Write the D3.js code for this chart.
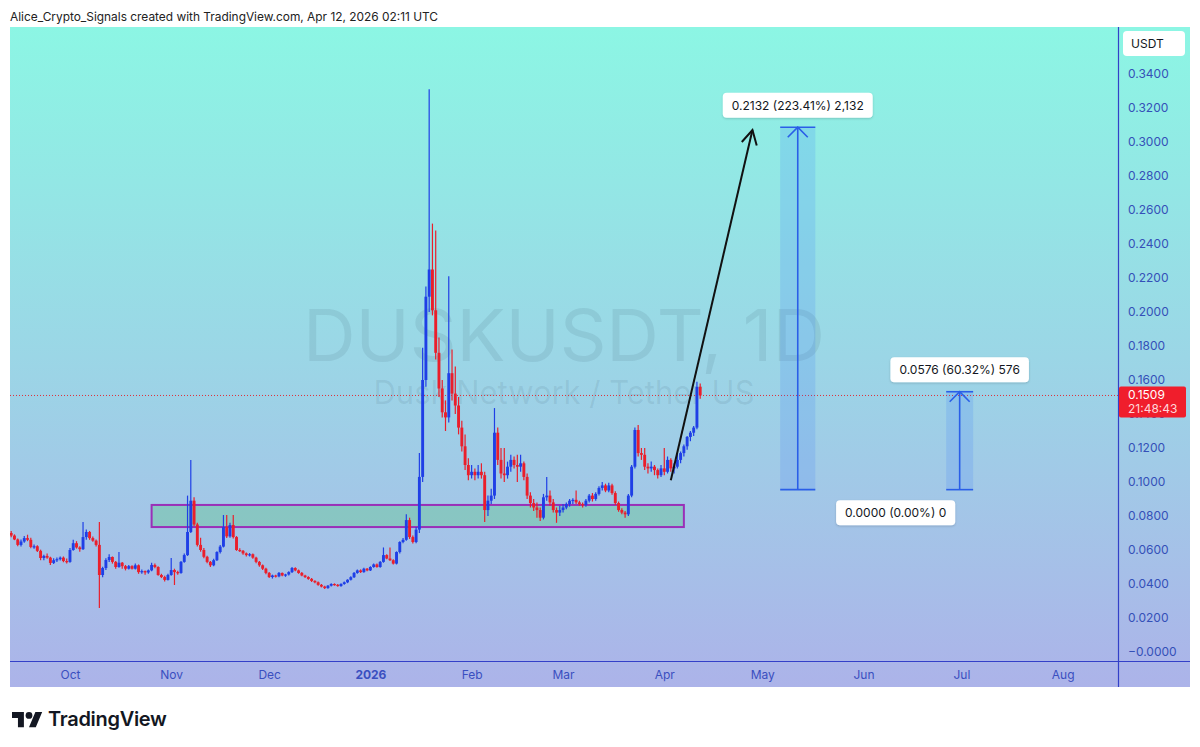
<!DOCTYPE html>
<html><head><meta charset="utf-8">
<script src="https://cdn.jsdelivr.net/npm/d3@7/dist/d3.min.js"></script>
<style>
html,body{margin:0;padding:0;background:#fff;}
svg{display:block;font-family:Inter,"Noto Sans",sans-serif;}
</style></head>
<body><svg id="c" width="1200" height="747"></svg>
<script>
// ---------------- DATA (daily candles [open, high, low, close]) ----------------
const startDate = Date.UTC(2025, 8, 13); // first candle: Sep 13 2025
const sep2025 = [
[0.0700,0.0712,0.0675,0.0685],[0.0685,0.0692,0.0658,0.0662],[0.0662,0.0668,0.0622,0.0630],
[0.0630,0.0662,0.0620,0.0650],[0.0650,0.0682,0.0642,0.0670],[0.0670,0.0690,0.0652,0.0660],
[0.0660,0.0672,0.0610,0.0618],[0.0618,0.0632,0.0608,0.0622],[0.0622,0.0628,0.0588,0.0595],
[0.0595,0.0602,0.0540,0.0553],[0.0553,0.0572,0.0540,0.0565],[0.0565,0.0580,0.0548,0.0555],
[0.0555,0.0560,0.0512,0.0524],[0.0524,0.0552,0.0518,0.0540],[0.0540,0.0556,0.0530,0.0546],
[0.0546,0.0562,0.0538,0.0555],[0.0555,0.0562,0.0528,0.0535],[0.0535,0.0550,0.0520,0.0530]];
const oct2025 = [
[0.0530,0.0612,0.0525,0.0600],[0.0600,0.0660,0.0595,0.0640],[0.0640,0.0652,0.0608,0.0615],
[0.0615,0.0622,0.0590,0.0605],[0.0605,0.0765,0.0600,0.0676],[0.0676,0.0720,0.0660,0.0706],
[0.0706,0.0712,0.0660,0.0670],[0.0670,0.0680,0.0648,0.0655],[0.0655,0.0662,0.0620,0.0630],
[0.0630,0.0765,0.0259,0.0453],[0.0453,0.0502,0.0440,0.0494],[0.0494,0.0552,0.0482,0.0541],
[0.0541,0.0575,0.0530,0.0559],[0.0559,0.0562,0.0520,0.0530],[0.0530,0.0536,0.0490,0.0500],
[0.0500,0.0588,0.0495,0.0525],[0.0525,0.0530,0.0490,0.0505],[0.0505,0.0512,0.0480,0.0490],
[0.0490,0.0512,0.0485,0.0505],[0.0505,0.0510,0.0485,0.0490],[0.0490,0.0520,0.0485,0.0510],
[0.0510,0.0515,0.0460,0.0470],[0.0470,0.0485,0.0460,0.0476],[0.0476,0.0480,0.0455,0.0468],
[0.0468,0.0486,0.0460,0.0480],[0.0480,0.0525,0.0475,0.0512],[0.0512,0.0520,0.0492,0.0500],
[0.0500,0.0505,0.0448,0.0453],[0.0453,0.0460,0.0435,0.0441],[0.0441,0.0448,0.0415,0.0424],
[0.0424,0.0460,0.0420,0.0453]];
const nov2025 = [
[0.0453,0.0553,0.0448,0.0482],[0.0482,0.0490,0.0394,0.0470],[0.0470,0.0478,0.0455,0.0465],
[0.0465,0.0535,0.0460,0.0530],[0.0530,0.0580,0.0525,0.0570],[0.0570,0.0920,0.0565,0.0706],
[0.0706,0.1130,0.0700,0.0890],[0.0890,0.0910,0.0740,0.0750],[0.0750,0.0760,0.0620,0.0630],
[0.0630,0.0672,0.0590,0.0600],[0.0600,0.0612,0.0552,0.0560],[0.0560,0.0566,0.0522,0.0530],
[0.0530,0.0535,0.0500,0.0510],[0.0510,0.0548,0.0505,0.0540],[0.0540,0.0592,0.0535,0.0588],
[0.0588,0.0630,0.0580,0.0620],[0.0620,0.0806,0.0615,0.0735],[0.0735,0.0806,0.0670,0.0680],
[0.0680,0.0760,0.0672,0.0747],[0.0747,0.0806,0.0668,0.0676],[0.0676,0.0682,0.0595,0.0600],
[0.0600,0.0610,0.0588,0.0595],[0.0595,0.0600,0.0572,0.0580],[0.0580,0.0585,0.0562,0.0570],
[0.0570,0.0582,0.0562,0.0575],[0.0575,0.0580,0.0548,0.0555],[0.0555,0.0560,0.0522,0.0530],
[0.0530,0.0535,0.0502,0.0510],[0.0510,0.0515,0.0482,0.0490],[0.0490,0.0495,0.0458,0.0465]];
const dec2025 = [
[0.0465,0.0470,0.0436,0.0441],[0.0441,0.0455,0.0432,0.0450],[0.0450,0.0455,0.0438,0.0445],
[0.0445,0.0470,0.0440,0.0465],[0.0465,0.0468,0.0445,0.0450],[0.0450,0.0460,0.0442,0.0456],
[0.0456,0.0475,0.0450,0.0470],[0.0470,0.0500,0.0465,0.0494],[0.0494,0.0498,0.0475,0.0480],
[0.0480,0.0485,0.0460,0.0465],[0.0465,0.0470,0.0445,0.0450],[0.0450,0.0455,0.0436,0.0441],
[0.0441,0.0446,0.0425,0.0430],[0.0430,0.0435,0.0412,0.0418],[0.0418,0.0422,0.0405,0.0410],
[0.0410,0.0414,0.0390,0.0395],[0.0395,0.0400,0.0380,0.0385],[0.0385,0.0390,0.0370,0.0376],
[0.0376,0.0394,0.0372,0.0390],[0.0390,0.0405,0.0385,0.0400],[0.0400,0.0404,0.0390,0.0395],
[0.0395,0.0400,0.0384,0.0388],[0.0388,0.0404,0.0384,0.0400],[0.0400,0.0414,0.0396,0.0410],
[0.0410,0.0428,0.0405,0.0425],[0.0425,0.0445,0.0420,0.0440],[0.0440,0.0470,0.0436,0.0465],
[0.0465,0.0485,0.0460,0.0480],[0.0480,0.0486,0.0465,0.0470],[0.0470,0.0495,0.0466,0.0490],
[0.0490,0.0494,0.0475,0.0480]];
const jan2026 = [
[0.0480,0.0505,0.0476,0.0500],[0.0500,0.0520,0.0495,0.0515],[0.0515,0.0520,0.0495,0.0500],
[0.0500,0.0535,0.0496,0.0530],[0.0530,0.0615,0.0525,0.0570],[0.0570,0.0575,0.0545,0.0550],
[0.0550,0.0615,0.0535,0.0540],[0.0540,0.0545,0.0515,0.0520],[0.0520,0.0592,0.0515,0.0588],
[0.0588,0.0652,0.0580,0.0647],[0.0647,0.0670,0.0640,0.0660],[0.0660,0.0810,0.0655,0.0776],
[0.0776,0.0790,0.0665,0.0676],[0.0676,0.0685,0.0638,0.0647],[0.0647,0.0735,0.0640,0.0720],
[0.0720,0.1170,0.0700,0.1030],[0.1030,0.1790,0.1000,0.1600],[0.1600,0.2150,0.1560,0.2090],
[0.2090,0.3310,0.2000,0.2250],[0.2250,0.2520,0.1980,0.2010],[0.2010,0.2480,0.1720,0.1760],
[0.1760,0.1850,0.1500,0.1550],[0.1550,0.1600,0.1380,0.1410],[0.1410,0.1480,0.1300,0.1380],
[0.1380,0.2210,0.1350,0.1640],[0.1640,0.1780,0.1480,0.1520],[0.1520,0.1680,0.1400,0.1450],
[0.1450,0.1500,0.1280,0.1320],[0.1320,0.1360,0.1180,0.1210],[0.1210,0.1280,0.1070,0.1100],
[0.1100,0.1140,0.1010,0.1040]];
const feb2026 = [
[0.1040,0.1100,0.1020,0.1060],[0.1060,0.1080,0.1010,0.1040],[0.1040,0.1100,0.1020,0.1060],
[0.1060,0.1110,0.1020,0.1040],[0.1040,0.1060,0.0765,0.0835],[0.0835,0.0920,0.0800,0.0890],
[0.0890,0.0960,0.0870,0.0920],[0.0920,0.1435,0.0900,0.1290],[0.1290,0.1320,0.1100,0.1130],
[0.1130,0.1200,0.1020,0.1050],[0.1050,0.1200,0.1000,0.1040],[0.1040,0.1120,0.1020,0.1090],
[0.1090,0.1160,0.1060,0.1130],[0.1130,0.1150,0.1080,0.1100],[0.1100,0.1160,0.1000,0.1090],
[0.1090,0.1160,0.1060,0.1110],[0.1110,0.1120,0.1010,0.1030],[0.1030,0.1050,0.0900,0.0920],
[0.0920,0.0940,0.0850,0.0876],[0.0876,0.0900,0.0830,0.0850],[0.0850,0.0880,0.0790,0.0835],
[0.0835,0.0850,0.0770,0.0790],[0.0790,0.0930,0.0780,0.0910],[0.0910,0.1030,0.0890,0.0920],
[0.0920,0.0950,0.0860,0.0880],[0.0880,0.0900,0.0820,0.0835],[0.0835,0.0850,0.0760,0.0820],
[0.0820,0.0860,0.0800,0.0835]];
const mar2026 = [
[0.0835,0.0870,0.0820,0.0850],[0.0850,0.0880,0.0840,0.0870],[0.0870,0.0900,0.0855,0.0890],
[0.0890,0.0905,0.0870,0.0895],[0.0895,0.0950,0.0870,0.0880],[0.0880,0.0890,0.0860,0.0870],
[0.0870,0.0880,0.0850,0.0865],[0.0865,0.0900,0.0855,0.0890],[0.0890,0.0930,0.0880,0.0920],
[0.0920,0.0935,0.0885,0.0900],[0.0900,0.0940,0.0890,0.0930],[0.0930,0.0975,0.0920,0.0965],
[0.0965,0.1000,0.0950,0.0980],[0.0980,0.0990,0.0940,0.0950],[0.0950,0.0995,0.0940,0.0980],
[0.0980,0.0990,0.0925,0.0935],[0.0935,0.0945,0.0865,0.0876],[0.0876,0.0885,0.0825,0.0835],
[0.0835,0.0845,0.0810,0.0820],[0.0820,0.0830,0.0790,0.0810],[0.0810,0.0930,0.0800,0.0920],
[0.0920,0.1100,0.0910,0.1090],[0.1090,0.1320,0.1080,0.1306],[0.1306,0.1335,0.1150,0.1170],
[0.1170,0.1200,0.1130,0.1160],[0.1160,0.1200,0.1070,0.1090],[0.1090,0.1110,0.1050,0.1080],
[0.1080,0.1120,0.1060,0.1090],[0.1090,0.1100,0.1040,0.1070],[0.1070,0.1080,0.1020,0.1040],
[0.1040,0.1100,0.1030,0.1080]];
const apr2026 = [
[0.1080,0.1200,0.1040,0.1060],[0.1060,0.1150,0.1050,0.1130],[0.1130,0.1140,0.1060,0.1080],
[0.1080,0.1110,0.1050,0.1090],[0.1090,0.1170,0.1080,0.1130],[0.1130,0.1180,0.1110,0.1170],
[0.1170,0.1220,0.1150,0.1210],[0.1210,0.1270,0.1190,0.1265],[0.1265,0.1300,0.1240,0.1290],
[0.1290,0.1330,0.1270,0.1320],[0.1320,0.1590,0.1310,0.1560],[0.1560,0.1580,0.1490,0.1509]];

const priceTicks = [0,0.02,0.04,0.06,0.08,0.10,0.12,0.14,0.16,0.18,0.20,0.22,0.24,0.26,0.28,0.30,0.32,0.34];
const monthTickDates = [[2025,9,1],[2025,10,1],[2025,11,1],[2026,0,1],[2026,1,1],[2026,2,1],[2026,3,1],[2026,4,1],[2026,5,1],[2026,6,1],[2026,7,1]];
const monthTickLabels = ["Oct","Nov","Dec","2026","Feb","Mar","Apr","May","Jun","Jul","Aug"];

const lastPrice = 0.1509, lastCountdown = "21:48:43";
// support zone
const zone = {x0:[2025,9,26], x1:[2026,3,7], top:0.0865, bottom:0.0735};
// projection arrow [date, price]
const arrowFrom = {d:[2026,3,3], p:0.101}, arrowTo = {d:[2026,3,28], p:0.307};
// price-range tools
const rangeBase = 0.0955;
const range1 = {x0:[2026,4,6,12], x1:[2026,4,17,6], delta:0.2132, label:"0.2132 (223.41%) 2,132"};
const range2 = {x0:[2026,5,26,8], x1:[2026,6,4,14], delta:0.0576, label:"0.0576 (60.32%) 576"};
const zeroLabel = "0.0000 (0.00%) 0";

// ---------------- DRAW ----------------
const candles = [].concat(sep2025, oct2025, nov2025, dec2025, jan2026, feb2026, mar2026, apr2026)
  .map((c,i)=>({date:new Date(startDate + i*864e5), o:c[0], h:c[1], l:c[2], c:c[3]}));
const U = a => new Date(Date.UTC(a[0],a[1],a[2],a[3]||0));

const svg = d3.select("#c");
const PX0=10, PX1=1190, PY0=27, PY1=687, PLOTR=1118, AXY=661;

const x = d3.scaleUtc().domain([new Date(startDate), candles[candles.length-1].date]).range([11.2, 700.2]);
const y = d3.scaleLinear().domain([0, 0.34]).range([652, 74]);

const defs = svg.append("defs");
const g = defs.append("linearGradient").attr("id","bg").attr("x1",0).attr("y1",0).attr("x2",0).attr("y2",1);
g.append("stop").attr("offset","0%").attr("stop-color","#8cf6e4");
g.append("stop").attr("offset","50%").attr("stop-color","#9bd6e6");
g.append("stop").attr("offset","100%").attr("stop-color","#acb3e9");
defs.append("clipPath").attr("id","plot").append("rect").attr("x",PX0).attr("y",PY0).attr("width",PLOTR-PX0).attr("height",AXY-PY0);
const sh = defs.append("filter").attr("id","sh").attr("x","-20%").attr("y","-40%").attr("width","140%").attr("height","180%");
sh.append("feDropShadow").attr("dx",0).attr("dy",1).attr("stdDeviation",1.2).attr("flood-color","#000").attr("flood-opacity",0.18);

// header
svg.append("text").attr("x",10).attr("y",21).attr("font-size",11.9).attr("fill","#222")
  .text("Alice_Crypto_Signals created with TradingView.com, Apr 12, 2026 02:11 UTC");

// panel
svg.append("rect").attr("x",PX0).attr("y",PY0).attr("width",PX1-PX0).attr("height",PY1-PY0).attr("fill","url(#bg)");

// watermark
svg.append("text").attr("x",564).attr("y",361).attr("text-anchor","middle").attr("font-size",72)
  .attr("fill","rgba(40,70,90,0.10)").attr("textLength",522).attr("lengthAdjust","spacingAndGlyphs").text("DUSKUSDT, 1D");
svg.append("text").attr("x",564).attr("y",404).attr("text-anchor","middle").attr("font-size",32)
  .attr("fill","rgba(40,70,90,0.10)").attr("textLength",381).attr("lengthAdjust","spacingAndGlyphs").text("Dusk Network / Tether US");

const plot = svg.append("g").attr("clip-path","url(#plot)");

// last price dotted line
plot.append("line").attr("x1",PX0).attr("x2",PLOTR).attr("y1",y(lastPrice)).attr("y2",y(lastPrice))
  .attr("stroke","#e0303a").attr("stroke-width",1).attr("stroke-dasharray","1,2");

// support zone
plot.append("rect").attr("x",x(U(zone.x0))).attr("y",y(zone.top))
  .attr("width",x(U(zone.x1))-x(U(zone.x0))).attr("height",y(zone.bottom)-y(zone.top))
  .attr("fill","rgba(90,200,130,0.36)").attr("stroke","#9a2fb8").attr("stroke-width",2);

// candles
const UP="#1f3fe6", DN="#ea1f2b";
const bw = 2.9;
const cg = plot.append("g");
cg.selectAll("line").data(candles).join("line")
  .attr("x1",d=>x(d.date)).attr("x2",d=>x(d.date)).attr("y1",d=>y(d.h)).attr("y2",d=>y(d.l))
  .attr("stroke",d=>d.c>=d.o?UP:DN).attr("stroke-width",1.2);
cg.selectAll("rect").data(candles).join("rect")
  .attr("x",d=>x(d.date)-bw/2).attr("width",bw)
  .attr("y",d=>y(Math.max(d.o,d.c))).attr("height",d=>Math.max(1.2,Math.abs(y(d.o)-y(d.c))))
  .attr("fill",d=>d.c>=d.o?UP:DN);

// arrow
const ax0=x(U(arrowFrom.d)), ay0=y(arrowFrom.p), ax1=x(U(arrowTo.d)), ay1=y(arrowTo.p);
plot.append("line").attr("x1",ax0).attr("y1",ay0).attr("x2",ax1).attr("y2",ay1).attr("stroke","#111").attr("stroke-width",2);
{
  const ang=Math.atan2(ay1-ay0,ax1-ax0), L=16, sp=0.5;
  const p1=[ax1-L*Math.cos(ang-sp), ay1-L*Math.sin(ang-sp)], p2=[ax1-L*Math.cos(ang+sp), ay1-L*Math.sin(ang+sp)];
  plot.append("path").attr("d",`M${p1}L${ax1},${ay1}L${p2}`).attr("fill","none").attr("stroke","#111").attr("stroke-width",2);
}

// range tools
function rangeTool(r){
  const xa=x(U(r.x0)), xb=x(U(r.x1)), xm=(xa+xb)/2, yt=y(rangeBase+r.delta), yb=y(rangeBase);
  plot.append("rect").attr("x",xa).attr("y",yt).attr("width",xb-xa).attr("height",yb-yt).attr("fill","rgba(41,110,255,0.15)");
  const c="#2a5ee8";
  plot.append("line").attr("x1",xm).attr("x2",xm).attr("y1",yt).attr("y2",yb).attr("stroke",c).attr("stroke-width",1.6);
  plot.append("line").attr("x1",xa).attr("x2",xb).attr("y1",yt).attr("y2",yt).attr("stroke",c).attr("stroke-width",1.6);
  plot.append("line").attr("x1",xa).attr("x2",xb).attr("y1",yb).attr("y2",yb).attr("stroke",c).attr("stroke-width",1.6);
  plot.append("path").attr("d",`M${xm-10},${yt+10}L${xm},${yt}L${xm+10},${yt+10}`).attr("fill","none").attr("stroke",c).attr("stroke-width",1.6);
  return {xm, yt, yb};
}
function labelBox(cx, cy, txt){
  const t = svg.append("text").attr("x",cx).attr("y",cy+4.3).attr("text-anchor","middle").attr("font-size",12).attr("fill","#131722").text(txt);
  const w = t.node().getComputedTextLength()+18;
  svg.insert("rect", () => t.node()).attr("x",cx-w/2).attr("y",cy-12.5).attr("width",w).attr("height",25).attr("rx",4)
    .attr("fill","#fff").attr("filter","url(#sh)");
}
const r1 = rangeTool(range1), r2 = rangeTool(range2);
labelBox(r1.xm, r1.yt-22, range1.label);
labelBox(r2.xm, r2.yt-22, range2.label);
labelBox(r2.xm-64, r2.yb+23, zeroLabel);

// axes lines
const AX="#3340c8";
svg.append("line").attr("x1",PLOTR+0.5).attr("x2",PLOTR+0.5).attr("y1",PY0).attr("y2",PY1).attr("stroke",AX).attr("stroke-width",1.2);
svg.append("line").attr("x1",PX0).attr("x2",PX1).attr("y1",AXY+0.5).attr("y2",AXY+0.5).attr("stroke",AX).attr("stroke-width",1.2);

// price axis
const yAxis = d3.axisRight(y).tickValues(priceTicks).tickSize(0).tickPadding(10)
  .tickFormat(d => d===0 ? "\u22120.0000" : d3.format(".4f")(d));
const ya = svg.append("g").attr("transform",`translate(${PLOTR},0)`).call(yAxis);
ya.select(".domain").remove();
ya.selectAll("text").attr("font-family","Inter, sans-serif").attr("font-size",12).attr("fill","#3450b8");

// time axis
const xAxis = d3.axisBottom(x).tickValues(monthTickDates.map(U)).tickSize(0).tickPadding(9)
  .tickFormat((d,i)=>monthTickLabels[i]);
const xa = svg.append("g").attr("transform",`translate(0,${AXY})`).call(xAxis);
xa.select(".domain").remove();
xa.selectAll("text").attr("font-family","Inter, sans-serif").attr("font-size",12).attr("fill","#3a4fc0")
  .attr("font-weight",(d,i)=>monthTickLabels[i]==="2026"?700:400);

// USDT box
svg.append("rect").attr("x",1123).attr("y",31).attr("width",62).attr("height",25).attr("rx",4).attr("fill","#fff");
svg.append("text").attr("x",1131).attr("y",48).attr("font-size",12).attr("fill","#131722").text("USDT");

// last price label
svg.append("rect").attr("x",PLOTR+1).attr("y",y(lastPrice)-9).attr("width",67).attr("height",31).attr("rx",2).attr("fill","#f01e2c");
svg.append("text").attr("x",1128).attr("y",y(lastPrice)+4).attr("font-size",12).attr("fill","#fff").text(d3.format(".4f")(lastPrice));
svg.append("text").attr("x",1128).attr("y",y(lastPrice)+18).attr("font-size",12).attr("fill","#ffd6da").text(lastCountdown);

// TradingView logo
const lg = svg.append("g").attr("transform","translate(12,708.6) scale(0.85)").attr("fill","#131722");
lg.append("path").attr("d","M14 22H7V11H0V4h14v18zM28 22h-8l7.5-18h8L28 22z");
lg.append("circle").attr("cx",20).attr("cy",8).attr("r",4);
svg.append("text").attr("x",48).attr("y",726).attr("font-size",20).attr("font-weight",600).attr("fill","#131722")
  .attr("letter-spacing",-0.3).text("TradingView");
</script></body></html>
